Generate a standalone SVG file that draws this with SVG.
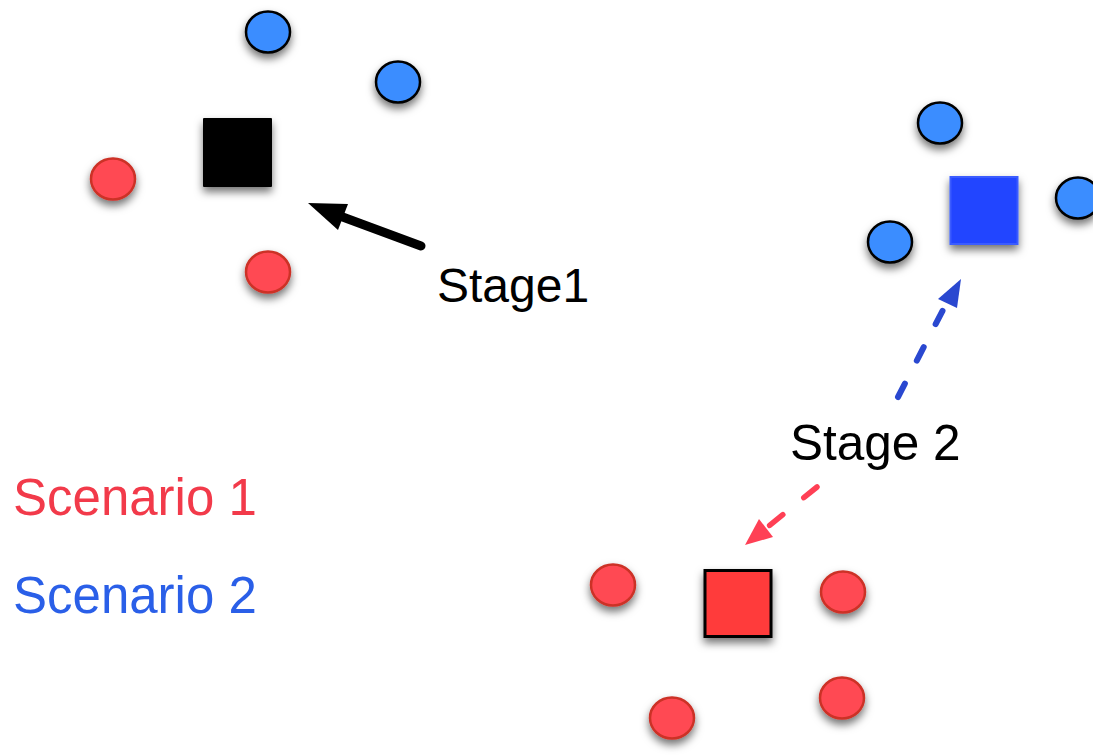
<svg xmlns="http://www.w3.org/2000/svg" width="1093" height="756" viewBox="0 0 1093 756">
<style>
.bc{fill:#3a8dff;stroke:#000;stroke-width:2.5}
.rc{fill:#ff4a52;stroke:#cc3028;stroke-width:2.5}
.lbl{font-family:"Liberation Sans",Arial,sans-serif;font-size:48px;fill:#000}
.sc{font-family:"Liberation Sans",Arial,sans-serif;font-size:51px}
</style>
<defs>
<filter id="sh" x="-50%" y="-50%" width="200%" height="220%">
<feDropShadow dx="0" dy="5" stdDeviation="4" flood-color="#000" flood-opacity="0.55"/>
</filter>
</defs>
<rect width="1093" height="756" fill="#fff"/>
<g id="nodes" filter="url(#sh)">
<g id="sq-black"><rect x="203" y="118" width="69" height="69" rx="1" fill="#000"/></g>
<g id="b1"><ellipse class="bc" cx="268" cy="32" rx="22" ry="20.5"/></g>
<g id="b2"><ellipse class="bc" cx="398" cy="82" rx="22" ry="20.5"/></g>
<g id="r1"><ellipse class="rc" cx="113" cy="179" rx="22" ry="20.5"/></g>
<g id="r2"><ellipse class="rc" cx="268" cy="272" rx="22" ry="20.5"/></g>
<g id="sq-blue"><rect x="950.5" y="177" width="67" height="67" fill="#2244ff" stroke="#3a5cff" stroke-width="2"/></g>
<g id="b3"><ellipse class="bc" cx="940" cy="123" rx="22" ry="20.5"/></g>
<g id="b4"><ellipse class="bc" cx="1078" cy="198" rx="22" ry="20.5"/></g>
<g id="b5"><ellipse class="bc" cx="890" cy="242" rx="22" ry="20.5"/></g>
<g id="sq-red"><rect x="705" y="570.5" width="66" height="66" fill="#ff3b3b" stroke="#000" stroke-width="3"/></g>
<g id="r3"><ellipse class="rc" cx="613" cy="585" rx="22" ry="20.5"/></g>
<g id="r4"><ellipse class="rc" cx="843" cy="592" rx="22" ry="20.5"/></g>
<g id="r5"><ellipse class="rc" cx="672" cy="718" rx="22" ry="20.5"/></g>
<g id="r6"><ellipse class="rc" cx="842" cy="698" rx="22" ry="20.5"/></g>
</g>
<g id="connectors">
<line x1="421" y1="246" x2="340" y2="216" stroke="#000" stroke-width="9" stroke-linecap="round"/>
<polygon points="308,203 348,204 338,230" fill="#000"/>
<line x1="898" y1="397" x2="945" y2="306" stroke="#2a48d0" stroke-width="6" stroke-linecap="round" stroke-dasharray="15 26"/>
<polygon points="961,279 938,299 957,308" fill="#2a48d0"/>
<line x1="817" y1="487" x2="764" y2="530" stroke="#ff4055" stroke-width="5.5" stroke-linecap="round" stroke-dasharray="17 27"/>
<polygon points="745,545 759,519 773,537" fill="#ff4055"/>
</g>
<g id="labels">
<text class="lbl" x="437" y="302">Stage1</text>
<text class="lbl" x="790" y="460" style="font-size:49.5px">Stage 2</text>
<text class="sc" x="13" y="515" fill="#f23a4a">Scenario 1</text>
<text class="sc" x="13" y="613" fill="#2a5fe8">Scenario 2</text>
</g>
</svg>
